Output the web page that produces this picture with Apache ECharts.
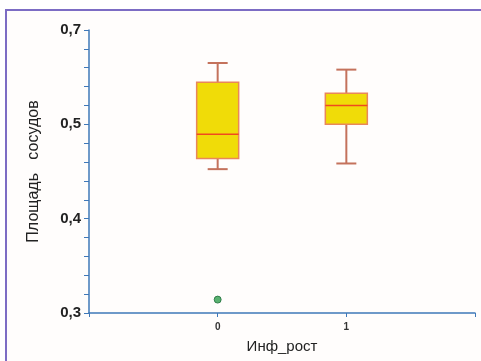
<!DOCTYPE html>
<html>
<head>
<meta charset="utf-8">
<script src="https://cdn.jsdelivr.net/npm/echarts@6/dist/echarts.min.js"></script>
<style>
  html, body { margin: 0; padding: 0; background: #ffffff; }
  #chart { width: 481px; height: 361px; }
</style>
</head>
<body>
<div id="chart"></div>
<script>
// groups on x (Инф_рост)
var groups = [0, 1];
// box statistics per group
var minVals = [0.4525, 0.4585];
var q1Vals = [0.4638, 0.5000];
var medianVals = [0.4896, 0.5200];
var q3Vals = [0.5445, 0.5330];
var maxVals = [0.5650, 0.5580];
// outliers: [group, value]
var outliers = [[0, 0.3142]];
// y tick labels as printed on the picture
var yTickLabels = ['0,3', '0,4', '0,5', '0,7'];

var boxData = groups.map(function (g, i) {
    return [g, minVals[i], q1Vals[i], medianVals[i], q3Vals[i], maxVals[i]];
});

function renderBox(params, api) {
    var x = api.value(0);
    var pMin = api.coord([x, api.value(1)]);
    var pQ1 = api.coord([x, api.value(2)]);
    var pMed = api.coord([x, api.value(3)]);
    var pQ3 = api.coord([x, api.value(4)]);
    var pMax = api.coord([x, api.value(5)]);
    var half = 21, cap = 10;
    var cx = pMin[0];
    var whisker = { stroke: '#c4725c', lineWidth: 2 };
    return {
        type: 'group',
        children: [
            { type: 'line', shape: { x1: cx, y1: pMax[1], x2: cx, y2: pQ3[1] }, style: whisker },
            { type: 'line', shape: { x1: cx, y1: pQ1[1], x2: cx, y2: pMin[1] }, style: whisker },
            { type: 'line', shape: { x1: cx - cap, y1: pMax[1], x2: cx + cap, y2: pMax[1] }, style: whisker },
            { type: 'line', shape: { x1: cx - cap, y1: pMin[1], x2: cx + cap, y2: pMin[1] }, style: whisker },
            {
                type: 'rect',
                shape: { x: cx - half, y: pQ3[1], width: half * 2, height: pQ1[1] - pQ3[1] },
                style: { fill: '#f0dc08', stroke: '#e9875a', lineWidth: 1.5 }
            },
            { type: 'line', shape: { x1: cx - half, y1: pMed[1], x2: cx + half, y2: pMed[1] }, style: { stroke: '#f04a1e', lineWidth: 1.5 } }
        ]
    };
}

var dom = document.getElementById('chart');
var chart = echarts.init(dom, null, { renderer: 'canvas' });

var axisBlue = '#3f78b8';

var option = {
    backgroundColor: '#ffffff',
    animation: false,
    graphic: [
        {
            type: 'rect',
            z: -10,
            shape: { x: 6, y: 10, width: 480, height: 360 },
            style: { fill: '#fffdfc', stroke: '#7c6cc4', lineWidth: 2 }
        }
    ],
    grid: { left: 89, right: 6, top: 30, bottom: 48 },
    xAxis: {
        type: 'value',
        min: -1,
        max: 2,
        interval: 1,
        name: 'Инф_рост',
        nameLocation: 'middle',
        nameGap: 26,
        nameTextStyle: { fontFamily: 'Liberation Sans', fontSize: 15, color: '#222' },
        splitLine: { show: false },
        axisLine: { onZero: false, lineStyle: { color: axisBlue, width: 1.5 } },
        axisTick: { length: 4, lineStyle: { color: axisBlue } },
        axisLabel: {
            margin: 9,
            fontFamily: 'Liberation Sans',
            fontWeight: 'bold',
            fontSize: 10,
            color: '#333',
            formatter: function (v) { return groups.indexOf(v) >= 0 ? String(v) : ''; }
        }
    },
    yAxis: {
        type: 'value',
        min: 0.3,
        max: 0.6,
        interval: 0.1,
        name: 'Площадь   сосудов',
        nameLocation: 'middle',
        nameGap: 47,
        nameTextStyle: { fontFamily: 'Liberation Sans', fontSize: 16, color: '#222' },
        splitLine: { show: false },
        axisLine: { show: true, onZero: false, lineStyle: { color: axisBlue, width: 1.5 } },
        axisTick: { show: true, length: 5, lineStyle: { color: axisBlue } },
        minorTick: { show: true, splitNumber: 5, length: 5, lineStyle: { color: axisBlue } },
        axisLabel: {
            margin: 8,
            fontFamily: 'Liberation Sans',
            fontWeight: 'bold',
            fontSize: 15,
            color: '#222',
            formatter: function (v, i) { return yTickLabels[i]; }
        }
    },
    series: [
        {
            type: 'custom',
            renderItem: renderBox,
            encode: { x: 0, y: [1, 2, 3, 4, 5] },
            data: boxData
        },
        {
            type: 'scatter',
            symbolSize: 7,
            itemStyle: { color: '#2f9e4c', borderColor: '#1e6e3a', borderWidth: 1 },
            data: outliers
        }
    ]
};

chart.setOption(option);
</script>
</body>
</html>
